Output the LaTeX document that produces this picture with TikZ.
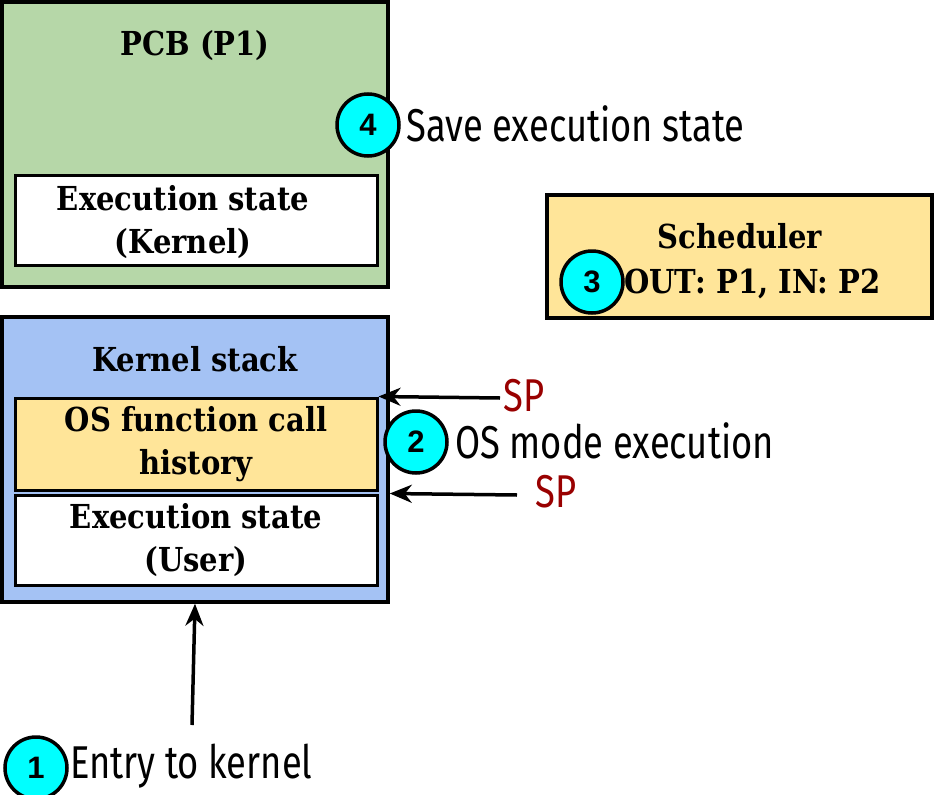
\documentclass[tikz,border=0pt]{standalone}
\usepackage{fontspec}
\setmainfont{DejaVu Serif}
\newfontfamily\boxfont[FakeStretch=0.88]{DejaVu Serif}
\newfontfamily\notefont[FakeStretch=0.79]{Fira Sans}
\newfontfamily\numfont{Liberation Sans}
\usepackage{tikz}
\usetikzlibrary{arrows.meta, positioning}
\usetikzlibrary{shapes}

\definecolor{pcbgreen}{HTML}{B6D7A8}
\definecolor{stackblue}{HTML}{A4C2F4}
\definecolor{callyellow}{HTML}{FFE599}
\definecolor{spred}{HTML}{990000}
\definecolor{numcyan}{HTML}{00FFFF}

\tikzset{
  outerbox/.style={draw, line width=3.5pt, rectangle, minimum width=386pt, minimum height=285pt},
  innerbox/.style={draw, line width=3pt, rectangle, minimum width=362pt, align=center,
    font=\boxfont\bfseries\fontsize{33}{43}\selectfont},
  boxtitle/.style={inner sep=0pt, font=\boxfont\bfseries\fontsize{33}{43}\selectfont},
  numcircle/.style={draw, line width=3.5pt, circle, fill=numcyan, minimum size=62pt, inner sep=0pt,
    font=\numfont\bfseries\fontsize{31}{31}\selectfont},
  note/.style={anchor=base west, inner sep=0pt, font=\notefont\fontsize{46}{50}\selectfont},
  sptext/.style={note, text=spred},
  ptr/.style={-{Stealth[length=22pt,width=18pt,inset=7pt]}, line width=3.5pt}
}

\begin{document}
\begin{tikzpicture}[x=1pt, y=-1pt]
\useasboundingbox (0,0) rectangle (935,795);

\node [outerbox, fill=pcbgreen] (pcb) at (195,144.5) {};
\node [boxtitle, anchor=base] (pcbtitle) at (195,55) {PCB (P1)};
\node [innerbox, fill=white, minimum height=90pt] (kstate) at (196,220) {};
\node [boxtitle, align=center] (kstatetext) at ([shift={(-13,2)}]kstate) {Execution state\\(Kernel)};
\node [numcircle] (c4) at (368,125) {4};
\node [note] (savetext) at (406,141) {Save execution state};

\node [draw, line width=3.5pt, rectangle, fill=callyellow, minimum width=385pt, minimum
height=123pt] (sched) at (739.5,256.5) {};
\node [boxtitle, anchor=base] (schedtitle) at (740,248) {Scheduler};
\node [numcircle] (c3) at (592,282) {3};
\node [boxtitle, anchor=base west] (swap) at (624,293) {OUT: P1, IN: P2};

\node [outerbox, fill=stackblue] (kstack) at (195,459.5) {};
\node [boxtitle, anchor=base] (kstacktitle) at (195,371) {Kernel stack};
\node [innerbox, fill=callyellow, minimum height=92pt] (hist) at (196,444) {OS function call\\history};
\node [innerbox, fill=white, minimum height=90pt] (ustate) at (196,540) {Execution state\\(User)};

\node [sptext] (sp1) at (503,411) {SP};
\node [sptext] (sp2) at (535,507) {SP};
\coordinate (sp1tail) at (500,398);
\coordinate (sp2tail) at (517,495);
\draw [ptr] (sp1tail) -- (hist.north east);
\draw [ptr] (sp2tail) -- (kstack.east |- ustate.north);

\node [numcircle] (c2) at (416,442) {2};
\node [note] (modetext) at (455,458) {OS mode execution};

\coordinate (entrytail) at (192,725);
\draw [ptr] (entrytail) -- (kstack.south);
\node [numcircle] (c1) at (36,768) {1};
\node [note] (entrytext) at (70,778) {Entry to kernel};
\end{tikzpicture}
\end{document}
